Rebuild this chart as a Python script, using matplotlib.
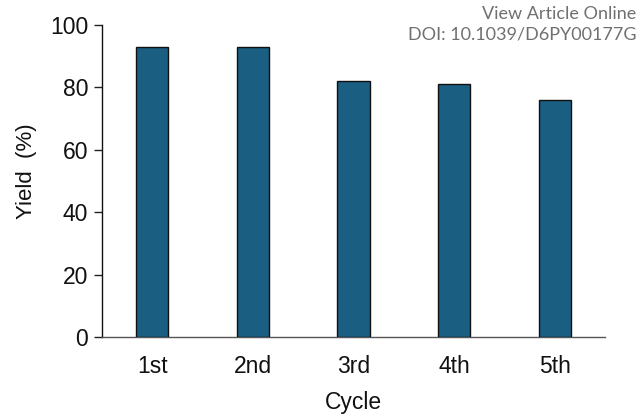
import matplotlib
matplotlib.use("Agg")
import matplotlib.pyplot as plt

categories = ["1st", "2nd", "3rd", "4th", "5th"]
yields = [93, 93, 82, 81, 76]
yticks = [0, 20, 40, 60, 80, 100]

plt.rcParams['font.family'] = ['Liberation Sans', 'DejaVu Sans']

fig = plt.figure(figsize=(6.39, 4.16), dpi=100)
ax = fig.add_axes([102/639, 1-337/416, (605-102)/639, (337-25)/416])

x = list(range(len(categories)))
ax.bar(x, yields, width=0.32, color="#1a5e82", edgecolor="#111111", linewidth=1.0, zorder=3)

ax.set_xlim(-0.5, len(categories)-0.5)
ax.set_ylim(0, 100)
ax.set_yticks(yticks)
ax.set_yticklabels([str(t) for t in yticks], fontsize=16.5, color="#111111")
ax.set_xticks(x)
ax.set_xticklabels(categories, fontsize=16.5, color="#111111")
ax.tick_params(axis='x', length=0, pad=13)
ax.tick_params(axis='y', length=6, width=1, color="#222222", pad=4)

for s in ["top", "right"]:
    ax.spines[s].set_visible(False)
ax.spines["left"].set_color("#111111")
ax.spines["bottom"].set_color("#555555")
ax.spines["left"].set_linewidth(1)
ax.spines["bottom"].set_linewidth(1)

ax.set_ylabel("Yield  (%)", fontsize=16, labelpad=9, color="#111111")
ax.yaxis.label.set_y(0.532)
ax.set_xlabel("Cycle", fontsize=16.5, labelpad=9, color="#111111")

fig.text(636/639, 1-14/416, "View Article Online", ha="right", va="center",
         fontsize=13, color="#707070", family=["Lato", "DejaVu Sans"])
fig.text(636/639, 1-35/416, "DOI: 10.1039/D6PY00177G", ha="right", va="center",
         fontsize=13, color="#707070", family=["Lato", "DejaVu Sans"])

fig.savefig("out.png", dpi=100)
